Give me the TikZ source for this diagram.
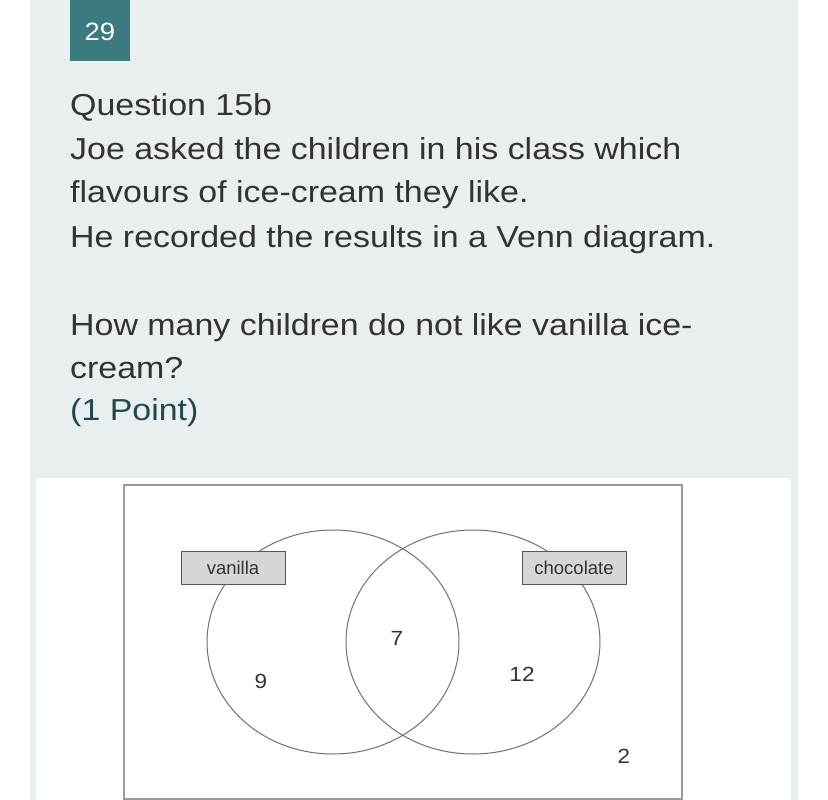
\documentclass[tikz,border=0pt]{standalone}
\usepackage{fontspec}
\setmainfont{Liberation Sans}
\newfontfamily\qfont[FakeStretch=1.12]{Liberation Sans}
\newfontfamily\nfont[FakeStretch=1.1]{Liberation Sans}
\definecolor{panelbg}{HTML}{E9EFF1}
\definecolor{teal29}{HTML}{3B7A7F}
\definecolor{txt}{HTML}{333333}
\definecolor{pointc}{HTML}{1F4A4C}
\definecolor{venn}{HTML}{707070}
\definecolor{framec}{HTML}{9A9A9A}
\definecolor{labfill}{HTML}{D6D6D6}
\definecolor{labdraw}{HTML}{555555}
\begin{document}
\begin{tikzpicture}[x=1pt,y=-1pt,
  qtext/.style={anchor=base west,inner sep=0pt,text=txt,font=\qfont\fontsize{30.3}{36}\selectfont},
  setlabel/.style={draw=labdraw,line width=0.9pt,fill=labfill,minimum width=104pt,minimum height=33pt,inner sep=0pt,text=txt,font=\fontsize{18.5}{22}\selectfont},
  count/.style={inner sep=0pt,text=txt,font=\nfont\fontsize{20.5}{24}\selectfont},
  vennset/.style={draw=venn,line width=1pt}]
\useasboundingbox (0,0) rectangle (828,800);
\fill[white] (0,0) rectangle (828,800);
\fill[panelbg] (30,0) rectangle (798,800);
\fill[white] (36,478) rectangle (791,800);
% number badge
\fill[teal29] (70,0) rectangle (130,61);
\node[text=white,font=\nfont\fontsize{25}{30}\selectfont,inner sep=0pt] (num) at (100,32) {29};
% question text
\node[qtext] (q1) at (70,115) {Question 15b};
\node[qtext] (q2) at (70,159) {Joe asked the children in his class which};
\node[qtext] (q3) at (70,202) {flavours of ice-cream they like.};
\node[qtext] (q4) at (70,247) {He recorded the results in a Venn diagram.};
\node[qtext] (q5) at (70,335) {How many children do not like vanilla ice-};
\node[qtext] (q6) at (70,378) {cream?};
\node[qtext,text=pointc] (q7) at (70,420) {(1 Point)};
% diagram
\draw[framec,line width=1.2pt] (124,485) rectangle (682,799);
\draw[vennset] (333,642) ellipse [x radius=126, y radius=112];
\draw[vennset] (473,642) ellipse [x radius=127, y radius=112];
\node[setlabel] (van) at (233,568) {vanilla};
\node[setlabel] (choc) at (574,568) {chocolate};
\node[count] (n7) at (397,638) {7};
\node[count] (n9) at (261,681) {9};
\node[count] (n12) at (522,674) {12};
\node[count] (n2) at (624,756) {2};
\end{tikzpicture}
\end{document}
